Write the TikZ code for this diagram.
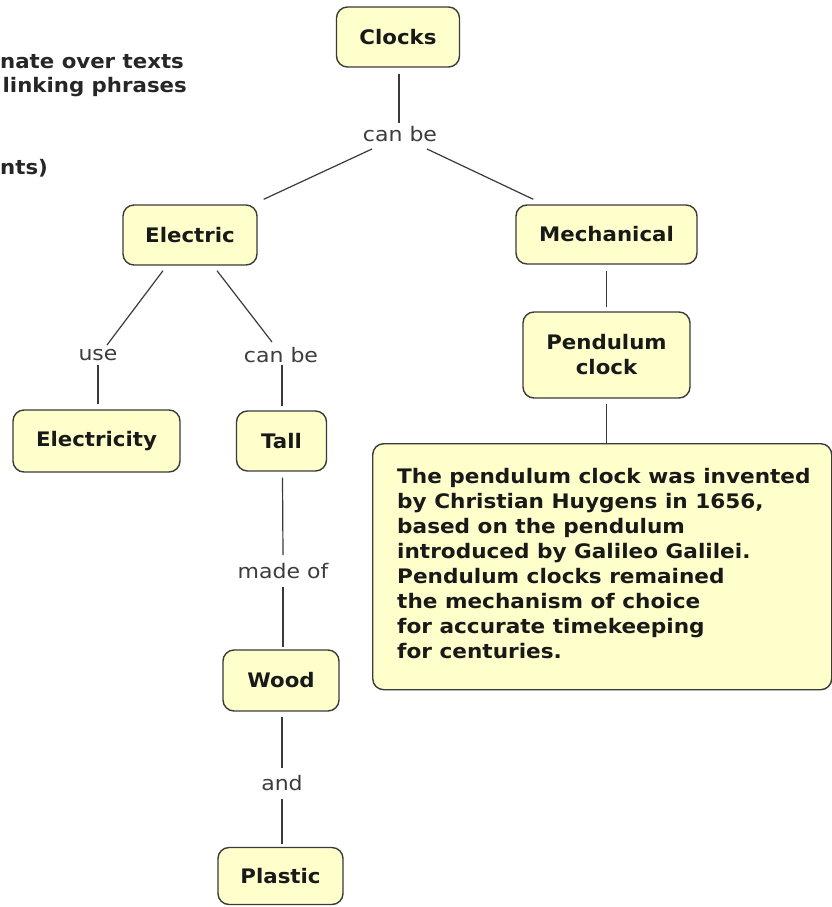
\documentclass[tikz,border=0pt]{standalone}
\usepackage{fontspec}
\setmainfont{DejaVu Sans}
\newfontfamily\conceptfont[FakeStretch=1.065]{DejaVu Sans}
\newfontfamily\notefont[FakeStretch=1.08]{DejaVu Sans}
\newfontfamily\linkfont[FakeStretch=1.1]{DejaVu Sans}
\usetikzlibrary{calc}
\definecolor{conceptfill}{HTML}{FFFFCC}
\definecolor{conceptline}{HTML}{3A3A3A}
\definecolor{linktext}{HTML}{3C3C3C}

\begin{document}
\begin{tikzpicture}[x=1pt,y=-1pt,
  concept/.style={draw=conceptline, line width=1.4pt, fill=conceptfill,
    rounded corners=11pt, inner sep=0pt, align=center, text=black!90,
    font=\conceptfont\fontsize{20}{25}\selectfont\bfseries},
  linkphrase/.style={inner sep=1pt, text=linktext,
    font=\linkfont\fontsize{20}{22}\selectfont},
  connector/.style={draw=conceptline, line width=1.2pt},
  sidetext/.style={inner sep=0pt, text=black!85,
    font=\conceptfont\fontsize{20}{22}\selectfont\bfseries},
]
\useasboundingbox (0,0) rectangle (832,907);
\clip (0,0) rectangle (832,907);

% remains of the legend at the upper left
\node[sidetext, anchor=west] (legA) at (0,62) {nate over texts};
\node[sidetext, anchor=east] (legB) at (187,87) {linking phrases};
\node[sidetext, anchor=west] (legC) at (0,168) {nts)};

% concepts
\node[concept, minimum width=123pt, minimum height=60pt] (clocks) at (398,37) {Clocks};
\node[concept, minimum width=134pt, minimum height=60pt] (electric) at (190,235) {Electric};
\node[concept, minimum width=181pt, minimum height=59pt] (mechanical) at (606.5,234.5) {Mechanical};
\node[concept, minimum width=167pt, minimum height=86pt] (pendulum) at (606.5,355) {Pendulum\\clock};
\node[concept, minimum width=167pt, minimum height=62pt] (electricity) at (96.5,441) {Electricity};
\node[concept, minimum width=90pt, minimum height=60pt] (tall) at (281.5,441) {Tall};
\node[concept, minimum width=116pt, minimum height=61pt] (wood) at (281,680.5) {Wood};
\node[concept, minimum width=125pt, minimum height=57pt] (plastic) at (280.5,876) {Plastic};

% note attached to the pendulum clock
\node[concept, minimum width=459pt, minimum height=246pt, anchor=north west] (note) at (372,443) {};
\node[inner sep=0pt, anchor=west, align=left, text=black!90,
  font=\notefont\fontsize{20}{25}\selectfont\bfseries] (notetext) at (397,564)
  {The pendulum clock was invented\\
   by Christian Huygens in 1656,\\
   based on the pendulum\\
   introduced by Galileo Galilei.\\
   Pendulum clocks remained\\
   the mechanism of choice\\
   for accurate timekeeping\\
   for centuries.};

% linking phrases
\node[linkphrase] (cb1) at (400,134) {can be};
\node[linkphrase] (use) at (98,355) {use};
\node[linkphrase] (cb2) at (281,355) {can be};
\node[linkphrase] (madeof) at (283,571) {made of};
\node[linkphrase] (and) at (282,783) {and};

% connectors
\draw[connector] ($(clocks.south)+(1,6)$) -- ($(cb1.center)+(-1,-11)$);
\draw[connector] ($(cb1.center)+(-28,15)$) -- ($(electric.north east)+(6,-5)$);
\draw[connector] ($(cb1.center)+(27,15)$) -- ($(mechanical.north west)+(18,-5)$);
\draw[connector] ($(electric.south)+(-27,5)$) -- ($(use.center)+(9,-10)$);
\draw[connector] ($(electric.south)+(27,5)$) -- ($(cb2.center)+(-9,-13)$);
\draw[connector] ($(use.center)+(0,10)$) -- ($(use.center |- electricity.north)+(0,-5)$);
\draw[connector] ($(cb2.center)+(1,10)$) -- ($(cb2.center |- tall.north)+(1,-4)$);
\draw[connector] ($(tall.south)+(1,6)$) -- ($(madeof.center)+(0,-16)$);
\draw[connector] ($(madeof.center)+(0,16)$) -- ($(madeof.center |- wood.north)+(0,-2)$);
\draw[connector] ($(wood.south)+(1,5)$) -- ($(and.center)+(0,-15)$);
\draw[connector] ($(and.center)+(0,16)$) -- ($(and.center |- plastic.north)+(0,-3)$);
\draw[connector] ($(mechanical.south)+(0,6)$) -- ($(pendulum.north)+(0,-4)$);
\draw[connector] ($(pendulum.south)+(0,5)$) -- (pendulum.south |- note.north);
\end{tikzpicture}
\end{document}
